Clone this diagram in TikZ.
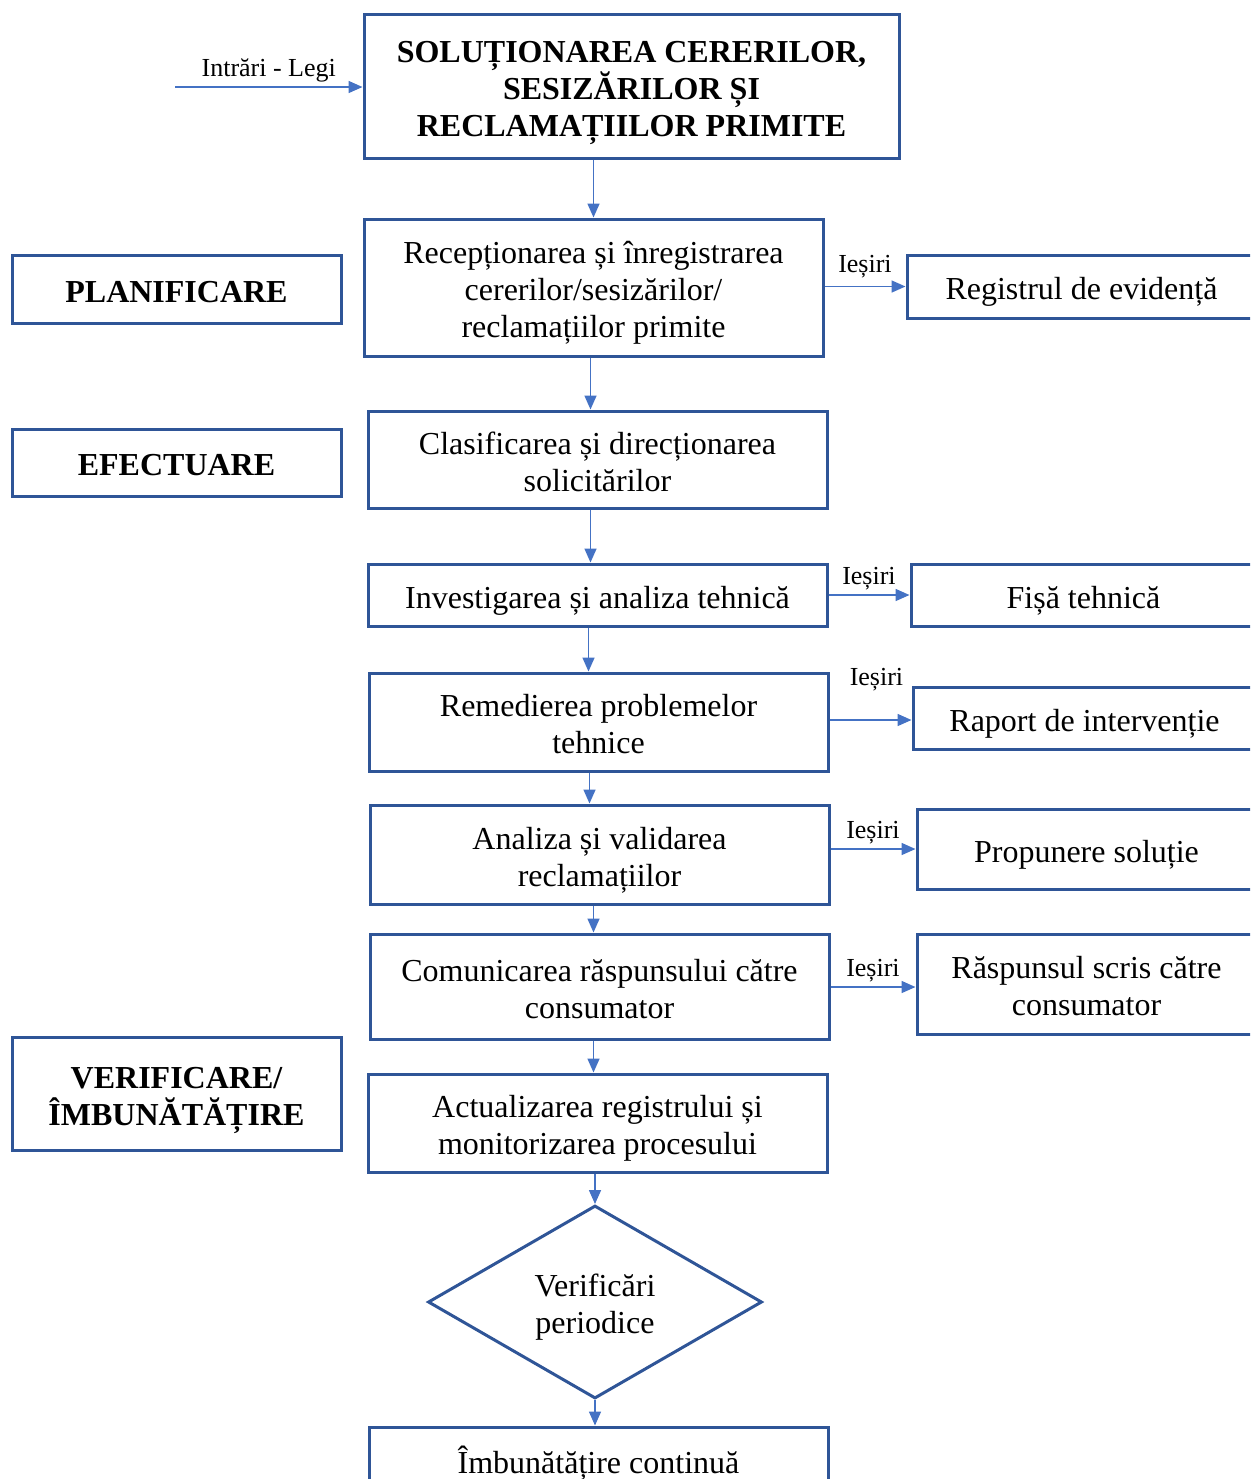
\documentclass[tikz,border=0pt]{standalone}
\usepackage{fontspec}
\setmainfont{Liberation Serif}
\usepackage{xcolor}
\usepackage{tikz}
\usetikzlibrary{positioning,shapes,shapes.geometric,arrows.meta,calc}
\definecolor{boxblue}{HTML}{2F5597}
\definecolor{arrblue}{HTML}{4472C4}

\begin{document}
\begin{tikzpicture}[x=0.5pt,y=-0.5pt]%[pixel units, y down]
      \tikzstyle{wordtext} = [text height=17pt, text depth=4pt]
      \tikzstyle{twolines} = [text height=35.5pt]
      \tikzstyle{threelines} = [text height=54pt]
      \tikzstyle{box} = [rectangle, draw=boxblue, line width=1.5pt,
      fill=white, align=center, inner sep=2pt, wordtext,
      font=\fontsize{16}{18.5}\selectfont]
      \tikzstyle{stepbox} = [box, minimum width=229.5pt]
      \tikzstyle{phase} = [box, minimum width=164.5pt,
      font=\fontsize{16}{18.5}\selectfont\bfseries]
      \tikzstyle{outbox} = [box]
      \tikzstyle{arr} = [draw=arrblue, line width=0.8pt,
      -{Triangle[length=7pt,width=6pt]}]
      \tikzstyle{lbl} = [font=\fontsize{13}{15}\selectfont, inner sep=2pt]
      \useasboundingbox (0,0) rectangle (1250,1479);
      \clip (0,0) rectangle (1250,1479);
      % TITLE
      \node[box, threelines, minimum width=267.5pt, minimum height=72pt,
      font=\fontsize{16}{18.5}\selectfont\bfseries] (title) at (631.5,86)
      {SOLUȚIONAREA CERERILOR,\\SESIZĂRILOR ȘI\\RECLAMAȚIILOR PRIMITE};
      \coordinate (in) at (175,87);
      % STEPS
      \node[stepbox, threelines, minimum height=68.5pt] (rec) at (593.5,287.5)
      {Recepționarea și înregistrarea\\cererilor/sesizărilor/\\reclamațiilor primite};
      \node[stepbox, twolines, minimum height=48.5pt] (cla) at (597.5,459.5)
      {Clasificarea și direcționarea\\solicitărilor};
      \node[stepbox, minimum height=31pt] (inv) at (597.5,595)
      {Investigarea și analiza tehnică};
      \node[stepbox, twolines, minimum height=49pt] (rem) at (598.5,722)
      {Remedierea problemelor\\tehnice};
      \node[stepbox, twolines, minimum height=49.5pt] (ana) at (599.5,854.5)
      {Analiza și validarea\\reclamațiilor};
      \node[stepbox, twolines, minimum height=52.5pt] (com) at (599.5,986.5)
      {Comunicarea răspunsului către\\consumator};
      \node[stepbox, twolines, minimum height=49pt] (act) at (597.5,1123)
      {Actualizarea registrului și\\monitorizarea procesului};
      \node[diamond, aspect=1.7, draw=boxblue, line width=1.5pt, align=center,
      minimum width=167pt, minimum height=96.5pt, inner sep=0pt, wordtext,
      twolines, font=\fontsize{16}{18.5}\selectfont] (ver) at (595,1302)
      {Verificări\\periodice};
      \node[stepbox, minimum height=33pt] (imb) at (598.5,1460)
      {Îmbunătățire continuă};
      % OUTPUTS
      \node[outbox, minimum width=174.5pt, minimum height=31.5pt] (reg)
      at (1081.5,286.5) {Registrul de evidență};
      \node[outbox, minimum width=172.5pt, minimum height=31pt] (fis)
      at (1083.5,595) {Fișă tehnică};
      \node[outbox, minimum width=171.5pt, minimum height=31pt] (rap)
      at (1084.5,718) {Raport de intervenție};
      \node[outbox, minimum width=169.5pt, minimum height=40pt] (pro)
      at (1086.5,849) {Propunere soluție};
      \node[outbox, twolines, minimum width=169.5pt, minimum height=50pt] (ras)
      at (1086.5,984) {Răspunsul scris către\\consumator};
      % PHASES
      \node[phase, minimum height=34pt] (pla) at (176.5,289) {PLANIFICARE};
      \node[phase, minimum height=33.5pt] (efe) at (176.5,462.5) {EFECTUARE};
      \node[phase, twolines, minimum height=56.5pt] (vrf) at (176.5,1093.5)
      {VERIFICARE/\\ÎMBUNĂTĂȚIRE};
      % ARROWS
      \draw[arr] (in) -- node[lbl, above, pos=0.5] {Intrări - Legi} (in -| title.west);
      \draw[arr] (rec.north |- title.south) -- (rec.north);
      \draw[arr] ($(rec.south)+(-3,0)$) -- ($(rec.south |- cla.north)+(-3,0)$);
      \draw[arr] ($(cla.south)+(-7,0)$) -- ($(cla.south |- inv.north)+(-7,0)$);
      \draw[arr] ($(inv.south)+(-9,0)$) -- ($(inv.south |- rem.north)+(-9,0)$);
      \draw[arr] ($(rem.south)+(-9,0)$) -- ($(rem.south |- ana.north)+(-9,0)$);
      \draw[arr] ($(ana.south)+(-6,0)$) -- ($(ana.south |- com.north)+(-6,0)$);
      \draw[arr] ($(com.south)+(-6,0)$) -- ($(com.south |- act.north)+(-6,0)$);
      \draw[arr] (ver.north |- act.south) -- (ver.north);
      \draw[arr] (ver.south) -- (ver.south |- imb.north);
      \draw[arr] (rec.east |- reg.west) -- node[lbl, above, yshift=2pt] {Ieșiri} (reg.west);
      \draw[arr] (inv.east |- fis.west) -- node[lbl, above] {Ieșiri} (fis.west);
      \draw[arr] ($(rem.east |- rap.west)+(0,2)$) -- node[lbl, above, yshift=12pt, xshift=3pt] {Ieșiri} ($(rap.west)+(0,2)$);
      \draw[arr] (ana.east |- pro.west) -- node[lbl, above] {Ieșiri} (pro.west);
      \draw[arr] ($(com.east |- ras.west)+(0,3)$) -- node[lbl, above] {Ieșiri} ($(ras.west)+(0,3)$);
    \end{tikzpicture}
\end{document}
